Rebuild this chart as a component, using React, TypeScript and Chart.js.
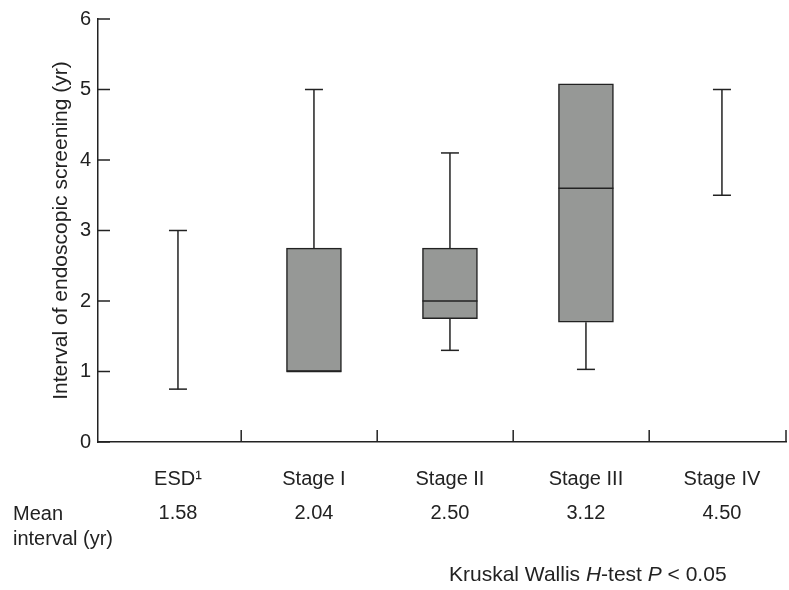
import { useEffect, useRef } from 'react';
import { Chart, registerables } from 'chart.js';

Chart.register(...registerables);

const categories = ['ESD¹', 'Stage I', 'Stage II', 'Stage III', 'Stage IV'];
const whiskerLow: number[] = [0.75, 1.0, 1.3, 1.03, 3.5];
const boxLow: (number | null)[] = [null, 1.0, 1.75, 1.7, null];
const medians: (number | null)[] = [null, 1.0, 2.0, 3.6, null];
const boxHigh: (number | null)[] = [null, 2.75, 2.75, 5.08, null];
const whiskerHigh: number[] = [3.0, 5.0, 4.1, 5.08, 5.0];
const meanIntervals = [1.58, 2.04, 2.5, 3.12, 4.5];
const yTicks = [0, 1, 2, 3, 4, 5, 6];
const separators = [0.465, 1.465, 2.465, 3.465, 4.471];

const FONT = "'Liberation Sans', Arial, Helvetica, sans-serif";
const INK = '#222222';

const boxPlugin = {
  id: 'boxWhiskers',
  afterDatasetsDraw(chart: any) {
    const { ctx, scales } = chart;
    const x = scales.x;
    const y = scales.y;
    const meta = chart.getDatasetMeta(0);
    ctx.save();
    ctx.strokeStyle = INK;
    ctx.lineWidth = 1.5;
    const capHalf = 9;
    const vline = (px: number, a: number, b: number) => {
      ctx.beginPath();
      ctx.moveTo(px, y.getPixelForValue(a));
      ctx.lineTo(px, y.getPixelForValue(b));
      ctx.stroke();
    };
    const hline = (px: number, v: number, half: number) => {
      const py = y.getPixelForValue(v);
      ctx.beginPath();
      ctx.moveTo(px - half, py);
      ctx.lineTo(px + half, py);
      ctx.stroke();
    };
    let boxIdx = 0;
    categories.forEach((_, i) => {
      const px = x.getPixelForValue(i);
      const lo = whiskerLow[i];
      const hi = whiskerHigh[i];
      const bl = boxLow[i];
      const bh = boxHigh[i];
      if (bl == null || bh == null) {
        vline(px, lo, hi);
        hline(px, lo, capHalf);
        hline(px, hi, capHalf);
      } else {
        const el = meta.data[boxIdx++];
        const half = el ? el.width / 2 : 27;
        if (lo < bl) {
          vline(px, lo, bl);
          hline(px, lo, capHalf);
        }
        if (hi > bh) {
          vline(px, bh, hi);
          hline(px, hi, capHalf);
        }
        const m = medians[i];
        if (m != null) hline(px, m, half);
      }
    });
    ctx.restore();
  },
  afterDraw(chart: any) {
    const { ctx, scales, chartArea } = chart;
    const x = scales.x;
    const y = scales.y;
    ctx.save();
    ctx.strokeStyle = INK;
    ctx.lineWidth = 1.5;
    yTicks.forEach((v) => {
      const py = y.getPixelForValue(v);
      ctx.beginPath();
      ctx.moveTo(chartArea.left, py);
      ctx.lineTo(chartArea.left + 12, py);
      ctx.stroke();
    });
    separators.forEach((v) => {
      const px = x.getPixelForValue(v);
      ctx.beginPath();
      ctx.moveTo(px, chartArea.bottom);
      ctx.lineTo(px, chartArea.bottom - 12);
      ctx.stroke();
    });
    ctx.fillStyle = INK;
    ctx.textBaseline = 'middle';
    ctx.textAlign = 'left';
    ctx.font = `20px ${FONT}`;
    ctx.fillText('Mean', 13, 514);
    ctx.fillText('interval (yr)', 13, 539);
    const parts: [string, boolean][] = [
      ['Kruskal Wallis ', false],
      ['H', true],
      ['-test ', false],
      ['P', true],
      [' < 0.05', false],
    ];
    let tx = 449;
    parts.forEach(([t, it]) => {
      ctx.font = `${it ? 'italic ' : ''}21px ${FONT}`;
      ctx.fillText(t, tx, 575);
      tx += ctx.measureText(t).width;
    });
    ctx.restore();
  },
};

export default function App() {
  const ref = useRef<HTMLCanvasElement | null>(null);
  useEffect(() => {
    if (!ref.current) return;
    const boxData: any[] = [];
    categories.forEach((_, i) => {
      const bl = boxLow[i];
      const bh = boxHigh[i];
      if (bl != null && bh != null) boxData.push({ x: i, y: [bl, bh] });
    });
    const chart = new Chart(ref.current, {
      type: 'bar',
      data: {
        datasets: [
          {
            data: boxData,
            backgroundColor: '#969896',
            borderColor: INK,
            borderWidth: 1.5,
            borderSkipped: false,
            barThickness: 55,
          } as any,
        ],
      },
      options: {
        animation: false,
        responsive: false,
        layout: { padding: { left: 0, right: 3, top: 15, bottom: 0 } },
        plugins: { legend: { display: false }, tooltip: { enabled: false } },
        scales: {
          x: {
            type: 'linear',
            offset: false,
            min: -0.588,
            max: 4.471,
            grid: { display: false, drawTicks: false, offset: false },
            border: { display: true, color: INK, width: 1.5 },
            afterBuildTicks: (s: any) => {
              s.ticks = categories.map((_, i) => ({ value: i }));
            },
            afterFit: (s: any) => {
              s.height = 148;
            },
            ticks: {
              autoSkip: false,
              maxRotation: 0,
              padding: 20,
              color: INK,
              font: { family: FONT, size: 20, lineHeight: 1.7 },
              callback: (v: any) => [categories[v], meanIntervals[v].toFixed(2)],
            },
          },
          y: {
            min: 0,
            max: 6,
            grid: { display: false, drawTicks: false },
            border: { display: true, color: INK, width: 1.5 },
            afterBuildTicks: (s: any) => {
              s.ticks = yTicks.map((v) => ({ value: v }));
            },
            afterFit: (s: any) => {
              s.width = 98;
            },
            ticks: {
              padding: 7,
              color: INK,
              font: { family: FONT, size: 20 },
            },
            title: {
              display: true,
              text: 'Interval of endoscopic screening (yr)',
              color: INK,
              font: { family: FONT, size: 21 },
              padding: { top: 49, bottom: 0 },
            },
          },
        },
      },
      plugins: [boxPlugin],
    });
    return () => chart.destroy();
  }, []);
  return (
    <div style={{ position: 'fixed', left: 0, top: 0, width: 789, height: 590, background: '#fff' }}>
      <canvas ref={ref} width={789} height={590} />
    </div>
  );
}
